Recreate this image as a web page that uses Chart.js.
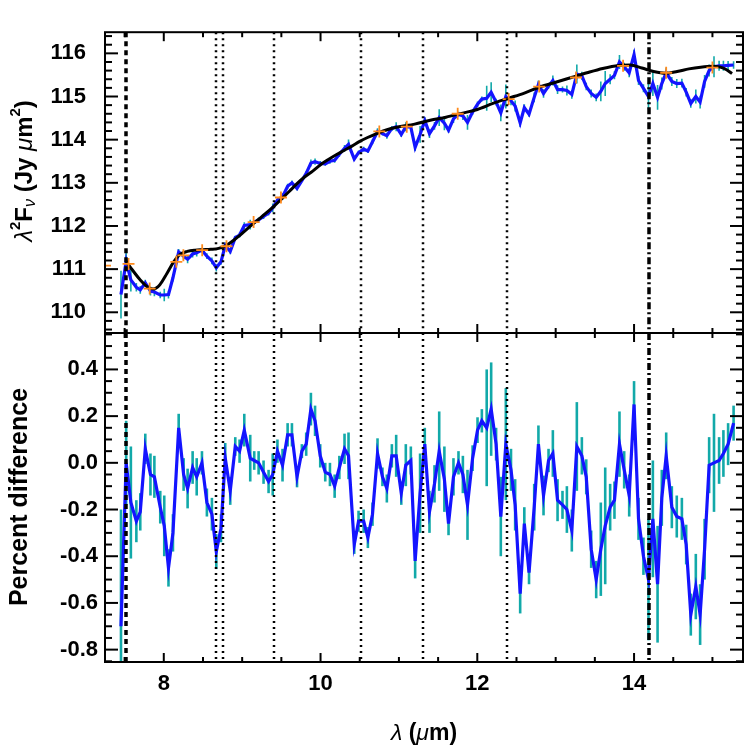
<!DOCTYPE html>
<html>
<head>
<meta charset="utf-8">
<script src="https://cdn.jsdelivr.net/npm/chart.js@4.4.1/dist/chart.umd.min.js"></script>
<style>
  html, body { margin: 0; padding: 0; background: #fff; }
  #wrap { position: relative; width: 752px; height: 752px; }
  #wrap canvas { position: absolute; left: 0; top: 0; }
</style>
</head>
<body>
<div id="wrap">
  <canvas id="fluxChart" width="752" height="752"></canvas>
  <canvas id="diffChart" width="752" height="752"></canvas>
</div>
<script>
// wavelength grid (micron)
const wavelength = [
  7.454, 7.52, 7.58, 7.65, 7.70, 7.764, 7.83, 7.88, 7.955, 8.006,
  8.06, 8.117, 8.19, 8.253, 8.304, 8.368, 8.42, 8.487, 8.55, 8.614,
  8.67, 8.73, 8.784, 8.848, 8.912, 8.967, 9.027, 9.103, 9.154, 9.21,
  9.273, 9.337, 9.39, 9.45, 9.515, 9.58, 9.635, 9.70, 9.762, 9.817,
  9.877, 9.93, 9.996, 10.06, 10.12, 10.18, 10.24, 10.306, 10.357, 10.43,
  10.485, 10.55, 10.604, 10.663, 10.727, 10.79, 10.846, 10.91, 10.965, 11.03,
  11.088, 11.152, 11.207, 11.27, 11.33, 11.39, 11.454, 11.514, 11.58, 11.633,
  11.696, 11.76, 11.816, 11.875, 11.94, 12.003, 12.058, 12.12, 12.177, 12.24,
  12.3, 12.364, 12.43, 12.483, 12.547, 12.60, 12.66, 12.726, 12.78, 12.845,
  12.909, 12.964, 13.024, 13.087, 13.143, 13.206, 13.27, 13.334, 13.39, 13.453,
  13.517, 13.576, 13.632, 13.695, 13.75, 13.814, 13.874, 13.938, 14.0, 14.057,
  14.12, 14.184, 14.24, 14.3, 14.354, 14.41, 14.482, 14.545, 14.61, 14.665,
  14.724, 14.788, 14.843, 14.9, 14.958, 15.02, 15.085, 15.14, 15.2, 15.27
];

// lambda^2 F_nu (Jy um^2)
const flux = [
  110.41, 111.18, 110.75, 110.58, 110.52, 110.68, 110.49, 110.47, 110.40, 110.40,
  110.41, 110.80, 111.40, 111.30, 111.23, 111.35, 111.38, 111.44, 111.30, 111.19,
  111.03, 111.17, 111.55, 111.41, 111.73, 111.79, 112.01, 112.03, 112.09, 112.14,
  112.22, 112.30, 112.42, 112.60, 112.68, 112.92, 113.00, 112.87, 113.05, 113.22,
  113.46, 113.49, 113.45, 113.44, 113.50, 113.52, 113.66, 113.80, 113.89, 113.55,
  113.70, 113.78, 113.74, 113.95, 114.19, 114.14, 114.09, 114.26, 114.30, 114.12,
  114.30, 114.29, 113.82, 114.12, 114.44, 114.14, 114.32, 114.51, 114.38, 114.22,
  114.48, 114.59, 114.55, 114.40, 114.64, 114.82, 114.94, 114.96, 115.10, 114.87,
  114.62, 115.00, 114.90, 114.78, 114.39, 114.74, 114.59, 114.98, 115.28, 115.07,
  115.24, 115.37, 115.16, 115.16, 115.14, 115.05, 115.52, 115.48, 115.23, 115.07,
  114.98, 115.12, 115.30, 115.40, 115.49, 115.80, 115.69, 115.55, 115.97, 115.37,
  115.19, 115.00, 115.30, 114.98, 115.30, 115.55, 115.35, 115.30, 115.31, 115.10,
  114.84, 115.00, 114.87, 115.35, 115.60, 115.69, 115.71, 115.71, 115.72, 115.73
];

// percent difference from the model
const pctDiff = [
  -0.70, 0.00, -0.17, -0.25, -0.21, 0.06, -0.05, -0.06, -0.19, -0.27,
  -0.45, -0.30, 0.15, -0.05, -0.11, -0.02, -0.06, 0.00, -0.17, -0.22,
  -0.38, -0.28, 0.02, -0.12, 0.07, 0.05, 0.14, 0.02, 0.01, 0.00,
  -0.04, -0.08, -0.05, 0.05, -0.01, 0.12, 0.12, -0.06, 0.05, 0.08,
  0.23, 0.18, 0.03, -0.04, -0.05, -0.10, -0.02, 0.06, 0.03, -0.35,
  -0.25, -0.25, -0.32, -0.22, 0.04, -0.06, -0.11, 0.03, 0.03, -0.13,
  -0.01, 0.01, -0.42, -0.13, 0.08, -0.21, -0.09, 0.05, -0.07, -0.26,
  -0.06, 0.00, -0.05, -0.18, 0.02, 0.14, 0.18, 0.15, 0.23, 0.08,
  -0.23, 0.08, -0.03, -0.18, -0.56, -0.26, -0.47, -0.19, 0.08, -0.14,
  0.01, 0.04, -0.16, -0.18, -0.20, -0.29, 0.07, 0.03, -0.06, -0.37,
  -0.50, -0.37, -0.27, -0.19, -0.16, 0.08, -0.03, -0.14, 0.25, -0.24,
  -0.40, -0.50, -0.24, -0.52, -0.15, 0.03, -0.19, -0.23, -0.24, -0.35,
  -0.65, -0.53, -0.65, -0.37, -0.01, 0.00, 0.01, 0.04, 0.08, 0.17
];

// percent uncertainty
const pctErr = [
  0.50, 0.18, 0.24, 0.09, 0.08, 0.065, 0.09, 0.09, 0.07, 0.13,
  0.08, 0.08, 0.06, 0.07, 0.085, 0.07, 0.08, 0.05, 0.06, 0.07,
  0.075, 0.06, 0.065, 0.06, 0.04, 0.05, 0.07, 0.10, 0.04, 0.05,
  0.05, 0.05, 0.09, 0.05, 0.07, 0.05, 0.05, 0.045, 0.03, 0.05,
  0.07, 0.065, 0.05, 0.04, 0.05, 0.05, 0.05, 0.065, 0.10, 0.04,
  0.045, 0.05, 0.045, 0.05, 0.065, 0.04, 0.06, 0.05, 0.09, 0.05,
  0.09, 0.06, 0.075, 0.17, 0.07, 0.09, 0.08, 0.17, 0.14, 0.05,
  0.08, 0.05, 0.08, 0.15, 0.055, 0.055, 0.05, 0.25, 0.20, 0.07,
  0.17, 0.24, 0.09, 0.11, 0.085, 0.07, 0.05, 0.10, 0.08, 0.085,
  0.05, 0.10, 0.09, 0.06, 0.10, 0.09, 0.19, 0.08, 0.075, 0.08,
  0.08, 0.20, 0.25, 0.10, 0.08, 0.14, 0.08, 0.09, 0.10, 0.09,
  0.08, 0.26, 0.25, 0.25, 0.12, 0.10, 0.09, 0.09, 0.09, 0.085,
  0.09, 0.14, 0.13, 0.13, 0.12, 0.21, 0.10, 0.10, 0.09, 0.075
];

// smooth model curve
const modelWave = [
  7.52, 7.60, 7.70, 7.80, 7.87, 7.95, 8.04, 8.12, 8.20,
  8.30, 8.40, 8.50, 8.60, 8.70, 8.80, 8.90, 9.00, 9.10, 9.20,
  9.30, 9.40, 9.50, 9.60, 9.70, 9.80, 9.90, 10.00, 10.10, 10.20,
  10.30, 10.40, 10.50, 10.60, 10.70, 10.80, 10.90, 11.00, 11.20, 11.40,
  11.60, 11.80, 12.00, 12.20, 12.40, 12.60, 12.80, 13.00, 13.20, 13.40,
  13.60, 13.80, 13.95, 14.10, 14.25, 14.40, 14.55, 14.70, 14.85, 15.00,
  15.10, 15.18, 15.25
];
const modelFlux = [
  111.18, 110.98, 110.75, 110.58, 110.54, 110.64, 110.90, 111.15, 111.33,
  111.41, 111.44, 111.45, 111.46, 111.48, 111.55, 111.68, 111.83, 111.99, 112.14,
  112.29, 112.45, 112.62, 112.80, 112.98, 113.14, 113.27, 113.42, 113.54, 113.65,
  113.75, 113.85, 113.96, 114.05, 114.13, 114.20, 114.26, 114.30, 114.36, 114.45,
  114.52, 114.61, 114.70, 114.84, 114.96, 115.08, 115.22, 115.33, 115.44, 115.55,
  115.65, 115.72, 115.73, 115.66, 115.58, 115.54, 115.58, 115.64, 115.68, 115.70,
  115.68, 115.62, 115.53
];

// continuum anchor points (orange crosses)
const anchorWave = [7.25, 7.55, 7.82, 8.16, 8.25, 8.49, 8.80, 9.146, 9.495, 10.75, 11.10, 11.75, 12.40, 12.79, 13.26, 13.86, 14.41, 15.0];
const anchorFlux = [111.08, 111.12, 110.55, 111.17, 111.32, 111.44, 111.53, 112.09, 112.66, 114.19, 114.30, 114.60, 114.94, 115.23, 115.44, 115.71, 115.55, 115.67];

// vertical marker lines
const dashedLines = [7.52];
const dottedLines = [8.67, 8.76, 9.40, 10.51, 11.31, 12.38];
const dashDotLines = [14.19];

// tick labels
const waveTicks = [8, 10, 12, 14];
const fluxTicks = [110, 111, 112, 113, 114, 115, 116];
const pctTicks = [-0.8, -0.6, -0.4, -0.2, 0.0, 0.2, 0.4];

const FONT = '"Liberation Sans", Arial, Helvetica, sans-serif';
const BLUE = '#1414ff';
const TEAL = '#12a9a9';
const ORANGE = '#ff8a1c';

const toXY = (xs, ys) => xs.map((x, i) => ({ x: x, y: ys[i] }));

function drawRich(ctx, parts, cx, cy, rotate) {
  ctx.save();
  ctx.translate(cx, cy);
  if (rotate) ctx.rotate(-Math.PI / 2);
  let total = 0;
  parts.forEach(p => { ctx.font = p.font; p.w = ctx.measureText(p.t).width; total += p.w; });
  let x = -total / 2;
  ctx.textBaseline = 'middle';
  ctx.fillStyle = '#000';
  parts.forEach(p => { ctx.font = p.font; ctx.fillText(p.t, x, p.dy || 0); x += p.w; });
  ctx.restore();
}

function panelPlugin(cfg) {
  return {
    id: 'panel',
    beforeDatasetsDraw(chart) {
      const { ctx, chartArea: a, scales: { x, y } } = chart;
      ctx.save();
      ctx.beginPath();
      ctx.rect(a.left, a.top, a.right - a.left, a.bottom - a.top);
      ctx.clip();
      ctx.strokeStyle = TEAL;
      ctx.lineWidth = cfg.errWidth;
      cfg.errX.forEach((w, i) => {
        const px = x.getPixelForValue(w);
        ctx.beginPath();
        ctx.moveTo(px, y.getPixelForValue(cfg.errY[i] - cfg.errV[i]));
        ctx.lineTo(px, y.getPixelForValue(cfg.errY[i] + cfg.errV[i]));
        ctx.stroke();
      });
      ctx.restore();
    },
    afterDatasetsDraw(chart) {
      const { ctx, chartArea: a, scales: { x, y } } = chart;
      ctx.save();
      ctx.strokeStyle = '#000';
      const vline = (vals, dash, width) => {
        ctx.setLineDash(dash);
        ctx.lineWidth = width;
        vals.forEach(v => {
          const px = Math.round(x.getPixelForValue(v));
          ctx.beginPath();
          ctx.moveTo(px, a.top);
          ctx.lineTo(px, a.bottom);
          ctx.stroke();
        });
      };
      vline(dashedLines, [5, 4], 3.5);
      vline(dottedLines, [2, 4], 2.5);
      vline(dashDotLines, [7, 3, 2, 3], 3.5);
      ctx.setLineDash([]);

      // frame and inward ticks on all sides
      ctx.lineWidth = 2;
      ctx.strokeRect(a.left, a.top, a.right - a.left, a.bottom - a.top);
      const seg = (x1, y1, x2, y2) => { ctx.beginPath(); ctx.moveTo(x1, y1); ctx.lineTo(x2, y2); ctx.stroke(); };
      for (let k = Math.ceil(x.min / 0.5); k * 0.5 <= x.max; k++) {
        const v = k * 0.5;
        const len = waveTicks.includes(v) ? 9 : 5;
        const px = x.getPixelForValue(v);
        seg(px, a.bottom, px, a.bottom - len);
        seg(px, a.top, px, a.top + len);
      }
      const st = cfg.yMinorStep;
      for (let k = Math.ceil(y.min / st - 1e-6); k * st <= y.max + 1e-9; k++) {
        const v = k * st;
        const major = cfg.yMajor.some(t => Math.abs(t - v) < 1e-6);
        const len = major ? 13 : 7;
        const py = y.getPixelForValue(v);
        seg(a.left, py, a.left + len, py);
        seg(a.right, py, a.right - len, py);
      }
      ctx.restore();
    },
    afterDraw(chart) {
      cfg.titles(chart.ctx);
    }
  };
}

const baseOpts = {
  responsive: false,
  animation: false,
  events: [],
  plugins: { legend: { display: false }, tooltip: { enabled: false } }
};

// upper panel: spectrum and model
new Chart(document.getElementById('fluxChart'), {
  type: 'scatter',
  data: {
    datasets: [
      {
        data: toXY(anchorWave, anchorFlux),
        pointStyle: 'cross', pointRadius: 6, borderColor: ORANGE, borderWidth: 1.8,
        clip: 0, order: 0
      },
      {
        data: toXY(modelWave, modelFlux),
        showLine: true, borderColor: '#000', borderWidth: 3, pointRadius: 0,
        cubicInterpolationMode: 'monotone', order: 1
      },
      {
        data: toXY(wavelength, flux),
        showLine: true, borderColor: BLUE, borderWidth: 3.2, pointRadius: 0,
        tension: 0, order: 2
      }
    ]
  },
  options: Object.assign({}, baseOpts, {
    layout: { padding: { left: 0, top: 8, right: 9, bottom: 752 - 333 } },
    scales: {
      x: { type: 'linear', min: 7.25, max: 15.39, display: false },
      y: {
        type: 'linear', min: 109.52, max: 116.49,
        afterFit: s => { s.width = 105; },
        afterBuildTicks: s => { s.ticks = fluxTicks.map(v => ({ value: v })); },
        grid: { display: false, drawTicks: false }, border: { display: false },
        ticks: { padding: 19, color: '#000', font: { family: FONT, size: 22, weight: 'bold' }, callback: v => String(v) }
      }
    }
  }),
  plugins: [panelPlugin({
    errX: wavelength,
    errY: flux,
    errV: flux.map((f, i) => f * pctErr[i] / 100),
    errWidth: 1.6,
    yMajor: fluxTicks,
    yMinorStep: 0.2,
    titles: ctx => drawRich(ctx, [
      { t: 'λ', font: 'italic 24px ' + FONT },
      { t: '2', font: 'bold 15px ' + FONT, dy: -9 },
      { t: 'F', font: 'bold 24px ' + FONT },
      { t: 'ν', font: 'italic 16px ' + FONT, dy: 6 },
      { t: ' (Jy ', font: 'bold 24px ' + FONT },
      { t: 'μ', font: 'italic 24px ' + FONT },
      { t: 'm', font: 'bold 24px ' + FONT },
      { t: '2', font: 'bold 15px ' + FONT, dy: -9 },
      { t: ')', font: 'bold 24px ' + FONT }
    ], 25, 171, true)
  })]
});

// lower panel: percent difference
new Chart(document.getElementById('diffChart'), {
  type: 'scatter',
  data: {
    datasets: [
      {
        data: toXY(wavelength, pctDiff),
        showLine: true, borderColor: BLUE, borderWidth: 3.2, pointRadius: 0, tension: 0
      }
    ]
  },
  options: Object.assign({}, baseOpts, {
    layout: { padding: { left: 0, top: 333, right: 9, bottom: 0 } },
    scales: {
      x: {
        type: 'linear', min: 7.25, max: 15.39,
        afterFit: s => { s.height = 90; },
        afterBuildTicks: s => { s.ticks = waveTicks.map(v => ({ value: v })); },
        grid: { display: false, drawTicks: false }, border: { display: false },
        ticks: { padding: 9, color: '#000', maxRotation: 0, font: { family: FONT, size: 22, weight: 'bold' }, callback: v => String(v) }
      },
      y: {
        type: 'linear', min: -0.853, max: 0.556,
        afterFit: s => { s.width = 105; },
        afterBuildTicks: s => { s.ticks = pctTicks.map(v => ({ value: v })); },
        grid: { display: false, drawTicks: false }, border: { display: false },
        ticks: { padding: 7, color: '#000', font: { family: FONT, size: 22, weight: 'bold' }, callback: v => v.toFixed(1) }
      }
    }
  }),
  plugins: [panelPlugin({
    errX: wavelength,
    errY: pctDiff,
    errV: pctErr,
    errWidth: 2.6,
    yMajor: pctTicks,
    yMinorStep: 0.05,
    titles: ctx => {
      drawRich(ctx, [{ t: 'Percent difference', font: 'bold 25px ' + FONT }], 20, 497, true);
      drawRich(ctx, [
        { t: 'λ', font: 'italic 23px ' + FONT },
        { t: ' (', font: 'bold 23px ' + FONT },
        { t: 'μ', font: 'italic 23px ' + FONT },
        { t: 'm)', font: 'bold 23px ' + FONT }
      ], 424, 734, false);
    }
  })]
});
</script>
</body>
</html>
